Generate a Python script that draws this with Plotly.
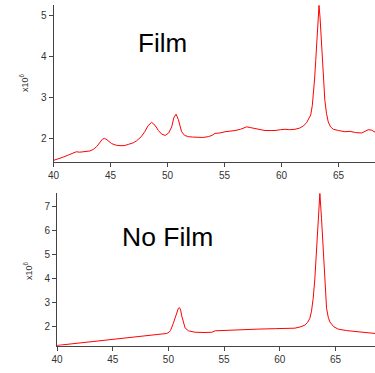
import plotly.graph_objects as go

W, H = 375, 373

film_x = [40.0, 40.4, 40.86, 41.3, 41.74, 42.0, 42.3, 42.7, 43.2, 43.5, 43.8, 44.1, 44.3, 44.46, 44.7,
          45.1, 45.5, 45.83, 46.2, 46.56, 47.0, 47.3, 47.7, 48.0, 48.3, 48.6, 48.9, 49.2, 49.5, 49.8,
          50.1, 50.37, 50.55, 50.75, 50.95, 51.1, 51.24, 51.5, 51.83, 52.2, 52.7, 53.1, 53.58, 53.9,
          54.17, 54.6, 55.04, 55.5, 55.92, 56.4, 56.95, 57.3, 57.68, 58.1, 58.55, 59.0, 59.43, 59.9,
          60.3, 60.7, 61.18, 61.6, 61.9, 62.2, 62.4, 62.56, 62.7, 62.8, 62.9, 63.0, 63.1, 63.2, 63.29,
          63.38, 63.5, 63.6, 63.7, 63.8, 63.95, 64.1, 64.3, 64.54, 65.0, 65.57, 66.0, 66.5, 67.04,
          67.3, 67.6, 67.9, 68.2]
film_y = [1.46, 1.49, 1.54, 1.59, 1.65, 1.67, 1.66, 1.67, 1.69, 1.73, 1.80, 1.91, 1.98, 2.00, 1.96,
          1.87, 1.83, 1.82, 1.82, 1.85, 1.89, 1.94, 2.04, 2.16, 2.31, 2.39, 2.32, 2.19, 2.10, 2.07,
          2.13, 2.28, 2.50, 2.59, 2.46, 2.30, 2.16, 2.07, 2.04, 2.03, 2.02, 2.02, 2.04, 2.07,
          2.12, 2.13, 2.16, 2.17, 2.19, 2.22, 2.28, 2.26, 2.24, 2.21, 2.19, 2.19, 2.19, 2.21,
          2.22, 2.21, 2.22, 2.25, 2.30, 2.38, 2.47, 2.57, 2.80, 3.10, 3.45, 3.90, 4.40, 4.95, 5.25,
          4.95, 4.40, 3.85, 3.30, 2.93, 2.60, 2.40, 2.28, 2.22, 2.19, 2.16, 2.17, 2.14, 2.13,
          2.17, 2.21, 2.20, 2.15]

nofilm_x = [40.0, 41.0, 42.0, 43.0, 44.0, 45.0, 46.0, 47.0, 48.0, 49.0, 49.5, 49.85, 50.05, 50.2, 50.44,
            50.7, 50.9, 51.0, 51.1, 51.2, 51.35, 51.5, 51.8, 52.4, 53.2, 53.9, 54.2, 55.0, 56.6, 58.0, 59.6,
            60.5, 61.36, 61.9, 62.26, 62.5, 62.7, 62.85, 63.0, 63.15, 63.3, 63.45, 63.6, 63.75, 63.9,
            64.05, 64.2, 64.35, 64.5, 64.85, 65.25, 66.0, 67.0, 68.0, 68.55]
nofilm_y = [1.22, 1.27, 1.32, 1.37, 1.42, 1.47, 1.52, 1.56, 1.61, 1.66, 1.69, 1.72, 1.77, 1.85, 2.14,
            2.50, 2.77, 2.79, 2.70, 2.45, 2.15, 1.95, 1.83, 1.77, 1.76, 1.77, 1.83, 1.85, 1.89, 1.90, 1.92,
            1.93, 1.94, 2.00, 2.07, 2.18, 2.35, 2.65, 3.18, 4.00, 5.10, 6.50, 7.56, 6.50, 5.10,
            3.80, 2.77, 2.40, 2.20, 2.00, 1.90, 1.84, 1.79, 1.75, 1.72]

x_ticks = [40, 45, 50, 55, 60, 65]
top_y_ticks = [2, 3, 4, 5]
bot_y_ticks = [2, 3, 4, 5, 6, 7]

FONT = "Liberation Sans, Arial, Helvetica, sans-serif"
AX = "#444444"
TXT = "#333333"

fig = go.Figure()
fig.add_trace(go.Scatter(x=film_x, y=film_y, mode="lines", line=dict(color="#ff0000", width=1),
                         xaxis="x", yaxis="y", showlegend=False))
fig.add_trace(go.Scatter(x=nofilm_x, y=nofilm_y, mode="lines", line=dict(color="#ff0000", width=1),
                         xaxis="x2", yaxis="y2", showlegend=False))

def axcommon(**kw):
    d = dict(showgrid=False, zeroline=False, showline=True, linecolor=AX, linewidth=1,
             ticks="outside", ticklen=4, tickcolor=AX, tickwidth=1,
             tickfont=dict(family=FONT, size=10, color=TXT), automargin=False)
    d.update(kw)
    return d

fig.update_layout(
    width=W, height=H, margin=dict(l=0, r=0, t=0, b=0),
    paper_bgcolor="white", plot_bgcolor="white",
    xaxis=axcommon(domain=[53.5 / W, 1], range=[40, 68.2], tickvals=x_ticks, anchor="y"),
    yaxis=axcommon(domain=[1 - 162 / H, 1 - 5 / H], range=[1.42, 5.26], tickvals=top_y_ticks, anchor="x"),
    xaxis2=axcommon(domain=[57 / W, 1], range=[40, 68.55], tickvals=x_ticks, anchor="y2"),
    yaxis2=axcommon(domain=[1 - 345.7 / H, 1 - 193.3 / H], range=[1.21, 7.56], tickvals=bot_y_ticks, anchor="x2"),
    annotations=[
        dict(text="Film", x=162.5 / W, y=1 - 43 / H, xref="paper", yref="paper", showarrow=False,
             xanchor="center", yanchor="middle", font=dict(family=FONT, size=26, color="black")),
        dict(text="No Film", x=167.5 / W, y=1 - 237 / H, xref="paper", yref="paper", showarrow=False,
             xanchor="center", yanchor="middle", font=dict(family=FONT, size=26.5, color="black")),
        dict(text="x10<sup>6</sup>", x=24 / W, y=1 - 83 / H, xref="paper", yref="paper", showarrow=False,
             textangle=-90, xanchor="center", yanchor="middle", font=dict(family=FONT, size=9, color=TXT)),
        dict(text="x10<sup>6</sup>", x=28 / W, y=1 - 271 / H, xref="paper", yref="paper", showarrow=False,
             textangle=-90, xanchor="center", yanchor="middle", font=dict(family=FONT, size=9, color=TXT)),
    ],
)

fig.write_html("out.html")
